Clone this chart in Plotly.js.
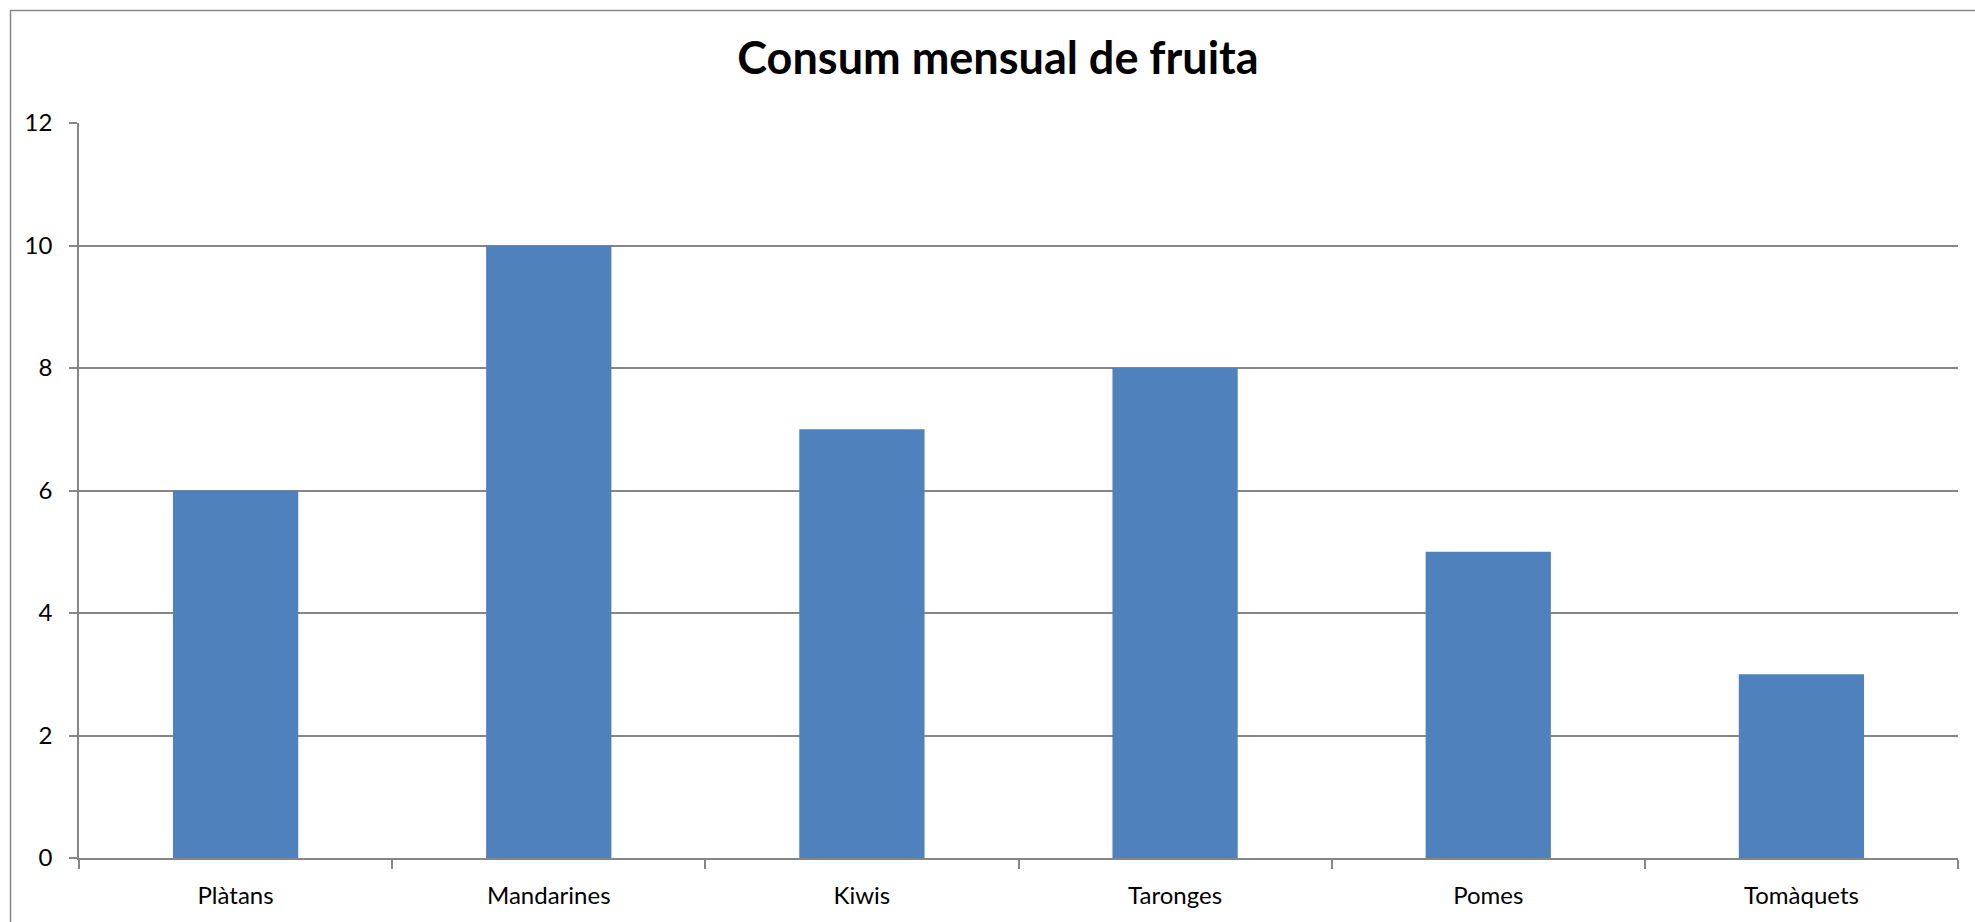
<!DOCTYPE html>
<html>
<head>
<meta charset="utf-8">
<script src="https://cdn.plot.ly/plotly-3.0.1.min.js"></script>
<style>html,body{margin:0;padding:0;background:#fff;}#chart{width:1975px;height:922px;}</style>
</head>
<body>
<div id="chart"></div>
<script>
const categories = ["Plàtans", "Mandarines", "Kiwis", "Taronges", "Pomes", "Tomàquets"];
const values = [6, 10, 7, 8, 5, 3];
const yTicks = [0, 2, 4, 6, 8, 10, 12];
const chartTitle = "Consum mensual de fruita";

const W = 1975, H = 922;
const mL = 79, mR = 17, mT = 123, mB = 64;
const pw = W - mL - mR, ph = H - mT - mB;
const px = v => (v - mL) / pw;
const py = v => (H - mB - v) / ph;
const gray = "#868686";

const trace = {
  type: "bar",
  x: categories,
  y: values,
  width: 0.4,
  marker: {color: "#4F81BD", line: {width: 0}},
  hoverinfo: "x+y"
};

const layout = {
  width: W, height: H,
  margin: {l: mL, r: mR, t: mT, b: mB, pad: 0},
  paper_bgcolor: "#fff",
  plot_bgcolor: "#fff",
  font: {family: "Lato, 'Open Sans', sans-serif", color: "#000", size: 24},
  showlegend: false,
  title: {
    text: "<b>" + chartTitle + "</b>",
    font: {family: "Lato, 'Open Sans', sans-serif", size: 45, color: "#000"},
    xref: "container", yref: "container",
    x: 998 / W, xanchor: "center",
    y: 1 - 58 / H, yanchor: "middle"
  },
  xaxis: {
    type: "category",
    tickson: "boundaries",
    ticks: "outside", ticklen: 9, tickcolor: gray, tickwidth: 1.5,
    showline: true, linecolor: gray, linewidth: 1.5,
    showgrid: false, zeroline: false,
    tickfont: {size: 24},
    ticklabelstandoff: 15,
    fixedrange: true
  },
  yaxis: {
    range: [0, 12],
    tickvals: yTicks,
    ticktext: yTicks.map(String),
    ticks: "outside", ticklen: 8, tickcolor: gray, tickwidth: 1.5,
    showline: true, linecolor: gray, linewidth: 1.5,
    showgrid: true, gridcolor: gray, gridwidth: 1.5,
    zeroline: false,
    tickfont: {size: 24},
    ticklabelstandoff: 12,
    fixedrange: true
  },
  shapes: [
    {type: "line", xref: "paper", yref: "paper", x0: px(10), x1: px(W + 5), y0: py(10.5), y1: py(10.5), line: {color: gray, width: 1.5}},
    {type: "line", xref: "paper", yref: "paper", x0: px(10.5), x1: px(10.5), y0: py(10), y1: py(H + 5), line: {color: gray, width: 1.5}}
  ]
};

Plotly.newPlot("chart", [trace], layout, {displayModeBar: false, staticPlot: false});
</script>
</body>
</html>
